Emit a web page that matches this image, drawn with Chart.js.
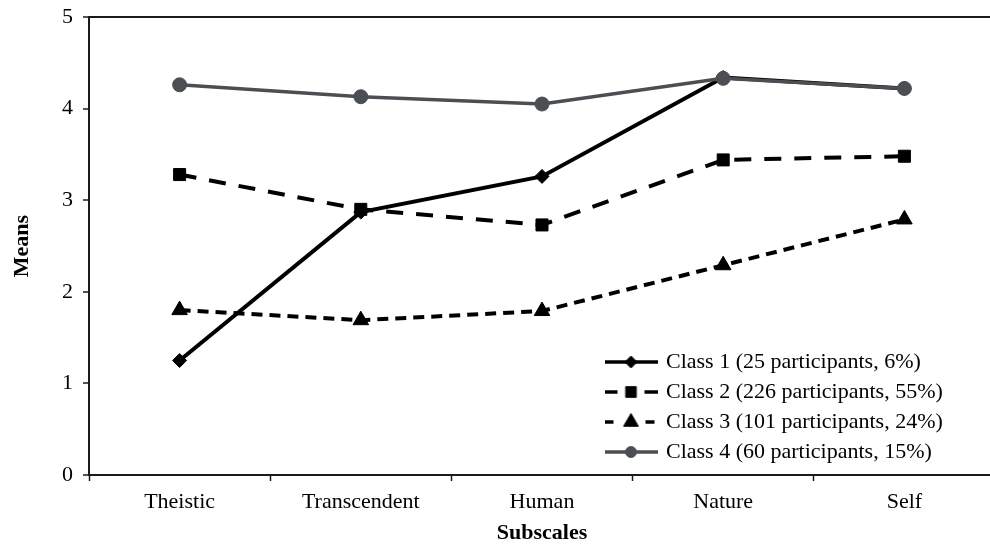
<!DOCTYPE html>
<html>
<head>
<meta charset="utf-8">
<script src="https://cdn.jsdelivr.net/npm/chart.js@4.4.1/dist/chart.umd.min.js"></script>
<style>
  html, body { margin: 0; padding: 0; background: #fff; overflow: hidden; }
  #wrap { width: 1005px; height: 545px; }
</style>
</head>
<body>
<div id="wrap"><canvas id="meansChart" width="1005" height="545"></canvas></div>
<script>
// --- Data ---
const subscales = ['Theistic', 'Transcendent', 'Human', 'Nature', 'Self'];
const class1 = [1.25, 2.87, 3.26, 4.34, 4.22];
const class2 = [3.28, 2.90, 2.73, 3.44, 3.48];
const class3 = [1.80, 1.69, 1.79, 2.29, 2.79];
const class4 = [4.26, 4.13, 4.05, 4.33, 4.22];
const classLabels = [
    'Class 1 (25 participants, 6%)',
    'Class 2 (226 participants, 55%)',
    'Class 3 (101 participants, 24%)',
    'Class 4 (60 participants, 15%)'
];
const yTicks = [0, 1, 2, 3, 4, 5];

const serif = "'Liberation Serif', 'Times New Roman', serif";
const ink = '#1a1a1a';
const grey = '#4b4f53';

// --- Legend icons (line + marker) ---
function makeIcon(color, segments, lineWidth, style, radius) {
    const c = document.createElement('canvas');
    c.width = 53; c.height = 22;
    const g = c.getContext('2d');
    g.strokeStyle = color;
    g.lineWidth = lineWidth;
    segments.forEach(s => {
        g.beginPath(); g.moveTo(s[0], 11); g.lineTo(s[1], 11); g.stroke();
    });
    g.fillStyle = color;
    g.lineWidth = 1;
    Chart.helpers.drawPoint(g, { pointStyle: style, radius: radius, rotation: 0, borderWidth: 1 }, 26.5, 11);
    return c;
}
const legendIcons = [
    makeIcon('#000', [[0, 53]], 3.5, 'rectRot', 6),
    makeIcon('#000', [[0, 13], [40, 53]], 3.5, 'rect', 7.5),
    makeIcon('#000', [[0, 9], [41, 50]], 3.5, 'triangle', 8.5),
    makeIcon(grey, [[0, 53]], 3.5, 'circle', 5.5)
];

// move the legend into the lower right of the plot
const legendPlacer = {
    id: 'legendPlacer',
    afterLayout(chart) {
        const lg = chart.legend;
        const w = lg.width, h = lg.height;
        lg.left = 599;
        lg.top = 343;
        lg.right = lg.left + w;
        lg.bottom = lg.top + h;
    }
};

const ctx = document.getElementById('meansChart').getContext('2d');
new Chart(ctx, {
    type: 'line',
    data: {
        labels: subscales,
        datasets: [
            {
                label: classLabels[0], data: class1, order: 2,
                borderColor: '#000', backgroundColor: '#000', borderWidth: 4,
                pointStyle: 'rectRot', pointRadius: 7, pointBorderWidth: 1,
                tension: 0, fill: false
            },
            {
                label: classLabels[1], data: class2, order: 3,
                borderColor: '#000', backgroundColor: '#000', borderWidth: 4,
                borderDash: [17, 13],
                pointStyle: 'rect', pointRadius: 8.5, pointBorderWidth: 1,
                tension: 0, fill: false
            },
            {
                label: classLabels[2], data: class3, order: 4,
                borderColor: '#000', backgroundColor: '#000', borderWidth: 4,
                borderDash: [11, 7],
                pointStyle: 'triangle', pointRadius: 9, pointBorderWidth: 1,
                tension: 0, fill: false
            },
            {
                label: classLabels[3], data: class4, order: 1,
                borderColor: grey, backgroundColor: grey, borderWidth: 3.5,
                pointStyle: 'circle', pointRadius: 7, pointBorderWidth: 1,
                tension: 0, fill: false
            }
        ]
    },
    options: {
        responsive: false,
        animation: false,
        events: [],
        layout: { padding: { top: 17, right: 2.5, bottom: 0, left: 0 } },
        plugins: {
            legend: {
                position: 'chartArea',
                align: 'start',
                labels: {
                    usePointStyle: true,
                    pointStyleWidth: 48,
                    boxHeight: 22,
                    padding: 8,
                    color: '#000',
                    font: { family: serif, size: 22 },
                    generateLabels: chart => chart.data.datasets.map((ds, i) => ({
                        text: ds.label,
                        pointStyle: legendIcons[i],
                        fillStyle: 'transparent',
                        strokeStyle: 'transparent',
                        lineWidth: 0,
                        hidden: false,
                        datasetIndex: i
                    }))
                }
            },
            tooltip: { enabled: false }
        },
        scales: {
            x: {
                type: 'category',
                offset: true,
                grid: { display: true, drawOnChartArea: false, offset: true, tickLength: 6, tickColor: ink, tickWidth: 1.5 },
                border: { display: true, color: ink, width: 2 },
                ticks: { color: '#000', font: { family: serif, size: 22 }, padding: 8, maxRotation: 0, autoSkip: false },
                title: {
                    display: true, text: 'Subscales', color: '#000',
                    font: { family: serif, size: 22, weight: 'bold' },
                    padding: { top: 0, bottom: -2 }
                },
                afterFit: s => { s.height = 70; }
            },
            y: {
                min: 0, max: 5,
                afterBuildTicks: s => { s.ticks = yTicks.map(v => ({ value: v })); },
                grid: {
                    color: c => (c.tick && c.tick.value === 5) ? ink : 'rgba(0,0,0,0)',
                    lineWidth: 2,
                    tickColor: ink, tickWidth: 1.5, tickLength: 6
                },
                border: { display: true, color: ink, width: 2 },
                ticks: { color: '#000', font: { family: serif, size: 22 }, padding: 10 },
                title: {
                    display: true, text: 'Means', color: '#000',
                    font: { family: serif, size: 22, weight: 'bold' },
                    padding: { top: 9, bottom: 0 }
                },
                afterFit: s => { s.width = 89; s.paddingTop = 0; s.paddingBottom = 0; }
            }
        }
    },
    plugins: [legendPlacer]
});
</script>
</body>
</html>
